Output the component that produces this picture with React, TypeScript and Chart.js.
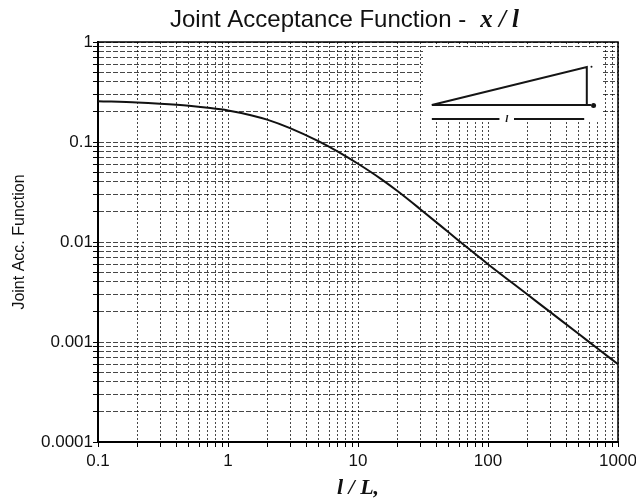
import { useEffect, useRef } from "react";
import { Chart, registerables } from "chart.js";

Chart.register(...registerables);

// ---- data ----
const lengthRatio = [0.1, 0.2, 0.3, 0.5, 0.7, 1, 1.5, 2, 3, 5, 7, 10, 15, 20, 30, 50, 70, 100, 200, 300, 500, 700, 1000];
const jointAcceptance = [0.256, 0.248, 0.241, 0.23, 0.22, 0.207, 0.1855, 0.1673, 0.1376, 0.1014, 0.0801, 0.0606, 0.0428, 0.0325, 0.0214, 0.01244, 0.00869, 0.006, 0.003, 0.002, 0.0012, 0.000857, 0.0006];

const xDecades = [0.1, 1, 10, 100, 1000];
const xDecadeLabels = ["0.1", "1", "10", "100", "1000"];
const yDecades = [0.0001, 0.001, 0.01, 0.1, 1];
const yDecadeLabels = ["0.0001", "0.001", "0.01", "0.1", "1"];
const minorMultipliers = [1, 2, 3, 4, 5, 6, 7, 8, 9];

const titleMain = "Joint Acceptance Function -";
const titleVar = "x / l";
const xTitle = "l / L,";
const yTitle = "Joint Acc. Function";
const insetLabel = "l";

function logTicks(decades: number[]) {
  const out: { value: number }[] = [];
  decades.forEach((d, i) => {
    if (i === decades.length - 1) out.push({ value: d });
    else minorMultipliers.forEach((m) => out.push({ value: +(d * m).toPrecision(8) }));
  });
  return out;
}

function decadeLabel(value: number, decades: number[], labels: string[]) {
  const i = decades.findIndex((d) => Math.abs(d - value) / d < 1e-6);
  return i >= 0 ? labels[i] : "";
}

const decorPlugin = {
  id: "decor",
  beforeDatasetsDraw(chart: any) {
    const { ctx, chartArea: a } = chart;
    const w = a.right - a.left;
    const h = a.bottom - a.top;
    const px = (f: number) => a.left + f * w;
    const py = (f: number) => a.top + f * h;
    ctx.save();
    // inset panel
    ctx.fillStyle = "#ffffff";
    ctx.fillRect(px(0.625), py(0.013), px(0.971) - px(0.625), py(0.2) - py(0.013));
    ctx.strokeStyle = "#151515";
    ctx.lineWidth = 2;
    ctx.lineJoin = "miter";
    ctx.beginPath();
    ctx.moveTo(px(0.642), py(0.1575));
    ctx.lineTo(px(0.94), py(0.0625));
    ctx.lineTo(px(0.94), py(0.1575));
    ctx.stroke();
    ctx.beginPath();
    ctx.moveTo(px(0.642), py(0.1575));
    ctx.lineTo(px(0.948), py(0.1575));
    ctx.stroke();
    ctx.beginPath();
    ctx.arc(px(0.953), py(0.159), 2.5, 0, Math.PI * 2);
    ctx.fillStyle = "#151515";
    ctx.fill();
    ctx.beginPath();
    ctx.arc(px(0.949), py(0.062), 1, 0, Math.PI * 2);
    ctx.fill();
    // dimension line with label
    ctx.lineWidth = 1.8;
    ctx.beginPath();
    ctx.moveTo(px(0.642), py(0.1925));
    ctx.lineTo(px(0.772), py(0.1925));
    ctx.moveTo(px(0.8), py(0.1925));
    ctx.lineTo(px(0.935), py(0.1925));
    ctx.stroke();
    ctx.font = 'italic bold 11px "Liberation Serif", serif';
    ctx.textAlign = "center";
    ctx.textBaseline = "middle";
    ctx.fillText(insetLabel, px(0.786), py(0.1925));
    // frame top / right
    ctx.strokeStyle = "#000";
    ctx.lineWidth = 1.5;
    ctx.beginPath();
    ctx.moveTo(a.left, a.top);
    ctx.lineTo(a.right, a.top);
    ctx.lineTo(a.right, a.bottom);
    ctx.stroke();
    ctx.restore();
  },
  afterDraw(chart: any) {
    const { ctx, chartArea: a } = chart;
    ctx.save();
    ctx.fillStyle = "#111";
    ctx.textBaseline = "alphabetic";
    ctx.textAlign = "left";
    const f1 = '24px "Liberation Sans", Arial, sans-serif';
    const f2 = 'italic bold 25px "Liberation Serif", serif';
    ctx.font = f1;
    const w1 = ctx.measureText(titleMain).width;
    ctx.font = f2;
    const w2 = ctx.measureText(titleVar).width;
    const gap = 14;
    const total = w1 + gap + w2;
    const cx = chart.width * 0.5417;
    const x0 = cx - total / 2;
    const base = a.top - 15;
    ctx.font = f1;
    ctx.fillText(titleMain, x0, base);
    ctx.font = f2;
    ctx.fillText(titleVar, x0 + w1 + gap, base);
    ctx.restore();
  },
};

export default function App() {
  const ref = useRef<HTMLCanvasElement | null>(null);

  useEffect(() => {
    document.body.style.margin = "0";
    if (!ref.current) return;
    const gridColor = "rgba(0,0,0,0.72)";
    const chart = new Chart(ref.current, {
      type: "line",
      data: {
        datasets: [
          {
            data: lengthRatio.map((x, i) => ({ x, y: jointAcceptance[i] })),
            borderColor: "#111",
            borderWidth: 2,
            pointRadius: 0,
            cubicInterpolationMode: "monotone",
            fill: false,
          },
        ],
      },
      options: {
        animation: false,
        responsive: false,
        devicePixelRatio: 1,
        layout: { padding: { top: 42, left: 0, right: 18, bottom: 0 } },
        plugins: { legend: { display: false }, tooltip: { enabled: false }, title: { display: false } },
        scales: {
          x: {
            type: "logarithmic",
            min: 0.1,
            max: 1000,
            afterBuildTicks: (scale: any) => {
              scale.ticks = logTicks(xDecades);
            },
            afterFit: (scale: any) => {
              scale.height = 60;
              scale.paddingRight = 0;
              scale.paddingLeft = 0;
            },
            ticks: {
              autoSkip: false,
              maxRotation: 0,
              minRotation: 0,
              padding: 4,
              color: "#111",
              font: { family: "Liberation Sans", size: 17 },
              callback: (v: any) => decadeLabel(Number(v), xDecades, xDecadeLabels),
            },
            grid: { color: gridColor, lineWidth: 1, tickLength: 5, tickColor: "#000", drawTicks: true },
            border: { display: true, color: "#000", width: 2, dash: [2, 2] },
            title: {
              display: true,
              text: xTitle,
              color: "#111",
              font: { family: "Liberation Serif", size: 22, style: "italic", weight: "bold" },
              padding: { top: 0, bottom: 0 },
            },
          },
          y: {
            type: "logarithmic",
            min: 0.0001,
            max: 1,
            afterBuildTicks: (scale: any) => {
              scale.ticks = logTicks(yDecades);
            },
            afterFit: (scale: any) => {
              scale.width = 98;
            },
            ticks: {
              autoSkip: false,
              padding: 0,
              color: "#111",
              font: { family: "Liberation Sans", size: 17 },
              callback: (v: any) => decadeLabel(Number(v), yDecades, yDecadeLabels),
            },
            grid: { color: gridColor, lineWidth: 1, tickLength: 5, tickColor: "#000", drawTicks: true },
            border: { display: true, color: "#000", width: 2, dash: [5, 2] },
            title: {
              display: true,
              text: yTitle,
              color: "#111",
              font: { family: "Liberation Sans", size: 16 },
              padding: { top: 10, bottom: 0 },
            },
          },
        },
      },
      plugins: [decorPlugin],
    } as any);
    return () => chart.destroy();
  }, []);

  return (
    <div style={{ width: 636, height: 502 }}>
      <canvas ref={ref} width={636} height={502} style={{ display: "block" }} />
    </div>
  );
}
